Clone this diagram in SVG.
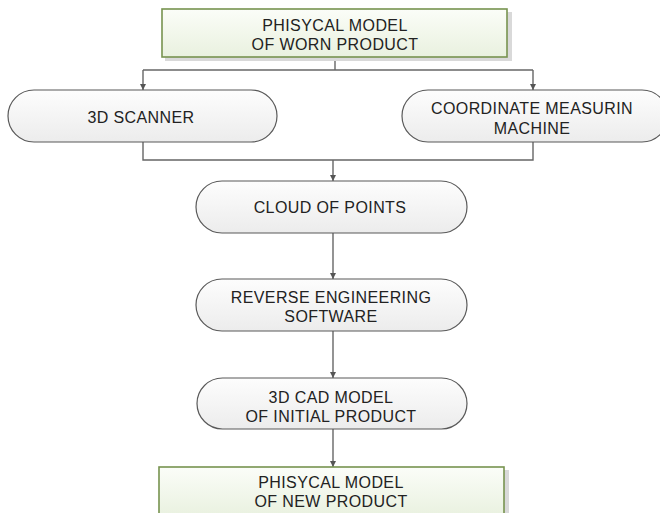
<svg xmlns="http://www.w3.org/2000/svg" width="660" height="513" viewBox="0 0 660 513">
<defs>
<linearGradient id="gGreen" x1="0" y1="0" x2="0" y2="1">
<stop offset="0" stop-color="#fbfdf8"/>
<stop offset="1" stop-color="#e9f1df"/>
</linearGradient>
<linearGradient id="gGray" x1="0" y1="0" x2="0" y2="1">
<stop offset="0" stop-color="#fdfdfd"/>
<stop offset="1" stop-color="#ececec"/>
</linearGradient>
<marker id="arr" viewBox="0 0 6 6" refX="6" refY="3" markerWidth="6" markerHeight="6" markerUnits="userSpaceOnUse" orient="auto">
<path d="M0,0 L6,3 L0,6 z" fill="#555"/>
</marker>
<style>
.rect{fill:url(#gGreen);stroke:#77934f;stroke-width:1.6}
.shadow{fill:#d9d9d9}
.pill{fill:url(#gGray);stroke:#595959;stroke-width:1.2}
.conn{fill:none;stroke:#666;stroke-width:1.4}
text{font-family:"Liberation Sans",Arial,sans-serif;font-size:16px;fill:#222;text-anchor:middle;letter-spacing:0.4px}
</style>
</defs>
<g id="connectors">
<path class="conn" d="M335,57 V70"/>
<path class="conn" d="M143,70 H533"/>
<path class="conn" d="M143,70 V90" marker-end="url(#arr)"/>
<path class="conn" d="M533,70 V90" marker-end="url(#arr)"/>
<path class="conn" d="M143,142 V160 H533 V142"/>
<path class="conn" d="M333,160 V181" marker-end="url(#arr)"/>
<path class="conn" d="M333,233 V279" marker-end="url(#arr)"/>
<path class="conn" d="M333,331 V378" marker-end="url(#arr)"/>
<path class="conn" d="M333,429 V467" marker-end="url(#arr)"/>
</g>
<g id="n1">
<rect class="shadow" x="165" y="12" width="347" height="49"/>
<rect class="rect" x="162" y="9" width="345" height="48"/>
<text x="335" y="30.5">PHISYCAL MODEL</text>
<text x="335" y="49.5">OF WORN PRODUCT</text>
</g>
<g id="n2">
<rect class="pill" x="8" y="90" width="269" height="52" rx="26" ry="26"/>
<text x="141" y="122.5">3D SCANNER</text>
</g>
<g id="n3">
<rect class="pill" x="402" y="90" width="266" height="52" rx="26" ry="26"/>
<text x="532" y="114">COORDINATE MEASURIN</text>
<text x="532" y="134">MACHINE</text>
</g>
<g id="n4">
<rect class="pill" x="196" y="181" width="271" height="52" rx="26" ry="26"/>
<text x="330" y="212.5">CLOUD OF POINTS</text>
</g>
<g id="n5">
<rect class="pill" x="196" y="279" width="271" height="52" rx="26" ry="26"/>
<text x="331" y="303">REVERSE ENGINEERING</text>
<text x="331" y="322">SOFTWARE</text>
</g>
<g id="n6">
<rect class="pill" x="197" y="378" width="270" height="51" rx="25.5" ry="25.5"/>
<text x="331" y="403">3D CAD MODEL</text>
<text x="331" y="422">OF INITIAL PRODUCT</text>
</g>
<g id="n7">
<rect class="shadow" x="162" y="470" width="347" height="50"/>
<rect class="rect" x="159" y="467" width="345" height="50"/>
<text x="331" y="488">PHISYCAL MODEL</text>
<text x="331" y="507">OF NEW PRODUCT</text>
</g>
</svg>
